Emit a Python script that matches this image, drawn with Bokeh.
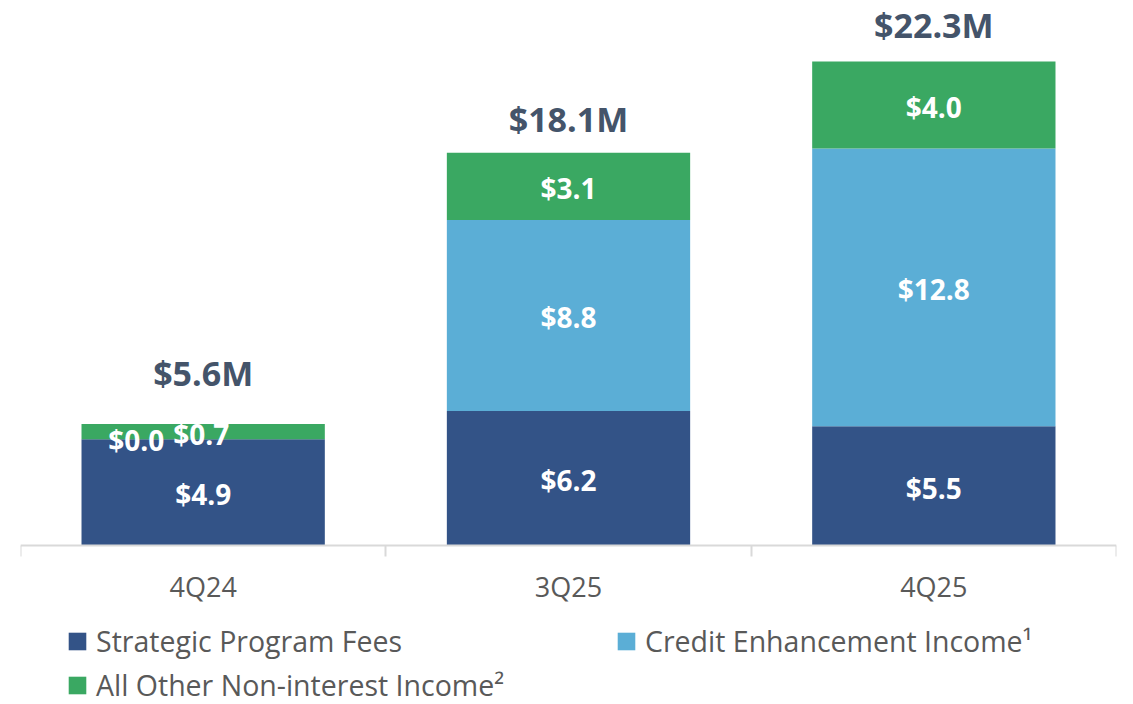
from bokeh.plotting import figure
from bokeh.models import (ColumnDataSource, Range1d, LinearAxis,
                          FixedTicker, Legend, LegendItem)
from bokeh.core.properties import value
from bokeh.embed import file_html
from bokeh.resources import INLINE

# ---- data ----
categories = ["4Q24", "3Q25", "4Q25"]
series_names = ["Strategic Program Fees", "Credit Enhancement Income\u00b9",
                "All Other Non-interest Income\u00b2"]
strategic_program_fees = [4.9, 6.2, 5.5]
credit_enhancement_income = [0.0, 8.8, 12.8]
all_other_income = [0.7, 3.1, 4.0]
totals = [5.6, 18.1, 22.3]

# ---- styles ----
colors = ["#335387", "#5BAED6", "#3AA862"]
keys = ["strategic", "credit", "other"]
FONT = "Open Sans"
GRAY = "#595959"
AXIS_GRAY = "#D9D9D9"

n = len(categories)
xpos = [i + 0.5 for i in range(n)]  # category slot centres

src = ColumnDataSource(dict(x=xpos, cat=categories,
                            strategic=strategic_program_fees,
                            credit=credit_enhancement_income,
                            other=all_other_income))

# frame fills the canvas height; the baseline (y=0) sits at 545px
p = figure(x_range=Range1d(0, n), y_range=Range1d(-7.327, 25.115),
           width=1133, height=704, output_backend="svg", toolbar_location=None,
           x_axis_location=None, y_axis_location=None,
           min_border_left=20, min_border_right=17, min_border_top=0,
           min_border_bottom=0)
p.outline_line_color = None
p.background_fill_color = "white"
p.grid.visible = False

renderers = p.vbar_stack(keys, x="x", width=0.666, color=colors,
                         source=src, line_color=None)

# segment labels
series = [strategic_program_fees, credit_enhancement_income, all_other_income]
label_shift = {(1, 0): (-67, 1), (2, 0): (-2, 2)}  # crowded small segments
lx, ly, lt, ldx, ldy = [], [], [], [], []
bottoms = [0.0] * n
for s, vals in enumerate(series):
    for i in range(n):
        lx.append(xpos[i])
        ly.append(bottoms[i] + vals[i] / 2)
        lt.append(f"${vals[i]:.1f}")
        dx, dy = label_shift.get((s, i), (0, 2))
        ldx.append(dx)
        ldy.append(dy)
        bottoms[i] += vals[i]

lsrc = ColumnDataSource(dict(x=lx, y=ly, t=lt, dx=ldx, dy=ldy))
p.text(x="x", y="y", text="t", x_offset="dx", y_offset="dy", source=lsrc,
       text_align="center", text_baseline="middle",
       text_font=value(FONT), text_font_style="bold",
       text_font_size="28px", text_color="white")

# totals
tsrc = ColumnDataSource(dict(x=xpos, y=totals,
                             t=[f"${v:.1f}M" for v in totals],
                             dy=[-51, -34, -37]))
p.text(x="x", y="y", text="t", y_offset="dy", source=tsrc,
       text_align="center", text_baseline="middle",
       text_font=value(FONT), text_font_style="bold",
       text_font_size="34px", text_color="#44546A")

# category axis with boundary ticks, pinned at the baseline
ax = LinearAxis(ticker=FixedTicker(ticks=xpos, minor_ticks=list(range(n + 1))),
                major_label_overrides={xpos[i]: c for i, c in enumerate(categories)},
                fixed_location=0)
ax.axis_line_color = AXIS_GRAY
ax.axis_line_width = 2
ax.major_tick_out = 0
ax.major_tick_in = 0
ax.minor_tick_out = 11
ax.minor_tick_in = 0
ax.minor_tick_line_color = AXIS_GRAY
ax.minor_tick_line_width = 2
ax.major_label_standoff = 11
ax.major_label_text_font = FONT
ax.major_label_text_font_size = "27px"
ax.major_label_text_color = GRAY
p.add_layout(ax, "below")

legend = Legend(items=[LegendItem(label=value(series_names[i]), renderers=[renderers[i]])
                       for i in range(len(series_names))],
                location=(46, 0), ncols=2, orientation="horizontal",
                glyph_width=22, glyph_height=22, label_standoff=8,
                label_width=514, label_height=39, spacing=5,
                padding=0, margin=0, border_line_color=None,
                background_fill_alpha=0,
                label_text_font=FONT, label_text_font_size="28.5px",
                label_text_color=GRAY)
p.add_layout(legend, "center")

open("out.html", "w").write(file_html(p, INLINE))
